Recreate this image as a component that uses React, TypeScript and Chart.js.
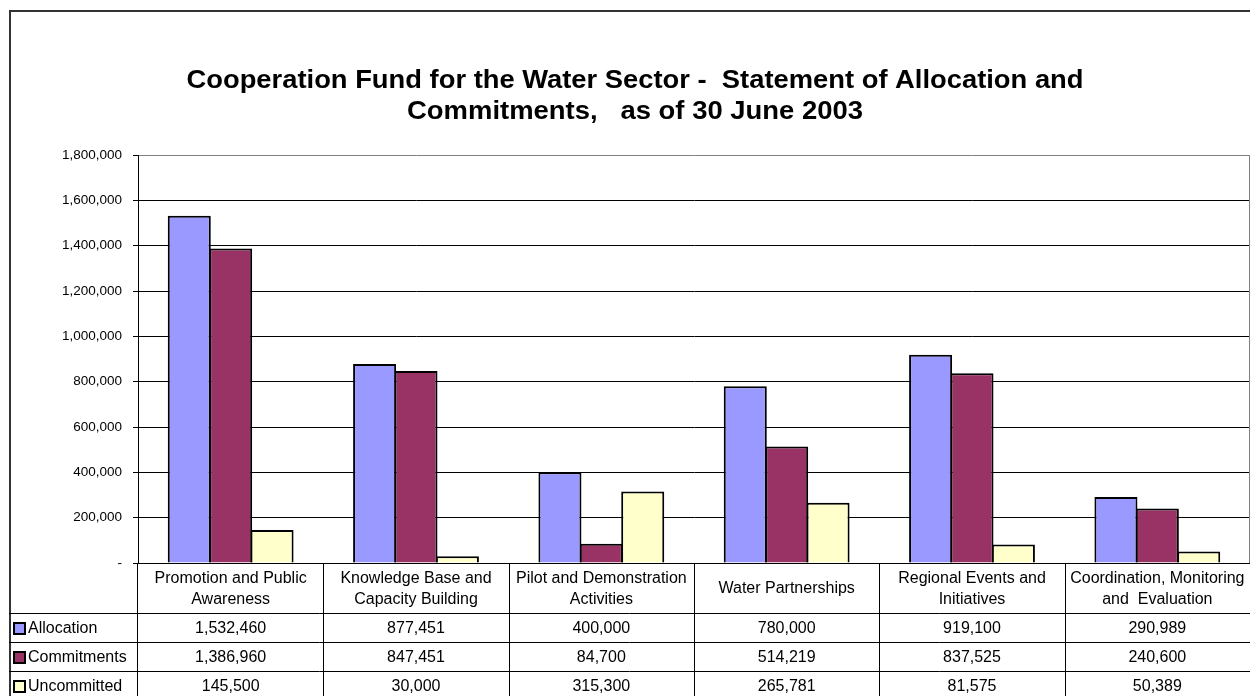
import React, { useEffect, useRef } from "react";
import { Chart, registerables } from "chart.js";

Chart.register(...registerables);

const categories: string[][] = [
  ["Promotion and Public", "Awareness"],
  ["Knowledge Base and", "Capacity Building"],
  ["Pilot and Demonstration", "Activities"],
  ["Water Partnerships"],
  ["Regional Events and", "Initiatives"],
  ["Coordination, Monitoring", "and  Evaluation"],
];
const seriesNames = ["Allocation", "Commitments", "Uncommitted"];
const allocation = [1532460, 877451, 400000, 780000, 919100, 290989];
const commitments = [1386960, 847451, 84700, 514219, 837525, 240600];
const uncommitted = [145500, 30000, 315300, 265781, 81575, 50389];
const seriesColors = ["#9999FF", "#993366", "#FFFFCC"];
const titleLines = [
  "Cooperation Fund for the Water Sector -  Statement of Allocation and",
  "Commitments,   as of 30 June 2003",
];
const yMax = 1800000;
const yStep = 200000;

const FONT = '"Liberation Sans", Arial, sans-serif';
const fmt = (v: number) => (v === 0 ? "-" : v.toLocaleString("en-US"));

const tablePlugin = {
  id: "tableAndFrame",
  afterDraw(chart: any) {
    const ctx: CanvasRenderingContext2D = chart.ctx;
    const area = chart.chartArea;
    const xs = chart.scales.x;
    const W = chart.width;
    const H = chart.height;
    const series = [allocation, commitments, uncommitted];
    ctx.save();

    // plot area right border (gray)
    ctx.strokeStyle = "#808080";
    ctx.lineWidth = 1;
    ctx.beginPath();
    ctx.moveTo(area.right - 0.5, area.top);
    ctx.lineTo(area.right - 0.5, area.bottom);
    ctx.stroke();

    // outer frame
    ctx.fillStyle = "#333333";
    ctx.fillRect(9, 10, W - 9, 2);
    ctx.fillRect(9, 10, 2, H - 10);

    // title
    ctx.fillStyle = "#000";
    ctx.font = `bold 26px ${FONT}`;
    ctx.textAlign = "center";
    ctx.textBaseline = "alphabetic";
    const titleCx = 635;
    const targetW = [897, 456];
    const titleY = [88, 119];
    titleLines.forEach((t, i) => {
      const w = ctx.measureText(t).width;
      const sx = targetW[i] / w;
      ctx.save();
      ctx.translate(titleCx, titleY[i]);
      ctx.scale(sx, 1);
      ctx.fillText(t, 0, 0);
      ctx.restore();
    });

    // table
    const n = categories.length;
    const catW = (xs.right - xs.left) / n;
    const top = area.bottom;
    const headerBottom = top + 50;
    const rowH = 29;
    ctx.strokeStyle = "#000";
    ctx.lineWidth = 1;
    ctx.beginPath();
    for (let i = 0; i < n; i++) {
      const bx = Math.round(xs.left + i * catW) + 0.5 - (i === 0 ? 1 : 0);
      ctx.moveTo(bx, top);
      ctx.lineTo(bx, H);
    }
    for (let r = 0; r < 3; r++) {
      const y = headerBottom + r * rowH + 0.5;
      ctx.moveTo(9, y);
      ctx.lineTo(W, y);
    }
    ctx.stroke();

    ctx.fillStyle = "#000";
    ctx.font = `16px ${FONT}`;
    ctx.textAlign = "center";
    ctx.textBaseline = "middle";
    const headerMid = (top + headerBottom) / 2;
    categories.forEach((lines, i) => {
      const cx = xs.getPixelForValue(i);
      const lh = 21;
      lines.forEach((ln, k) => {
        const y = headerMid + (k - (lines.length - 1) / 2) * lh + 1;
        ctx.fillText(ln, cx, y);
      });
      series.forEach((s, r) => {
        const y = headerBottom + r * rowH + rowH / 2 + 1;
        ctx.fillText(fmt(s[i]), cx, y);
      });
    });

    // legend keys and row labels
    ctx.textAlign = "left";
    seriesNames.forEach((name, r) => {
      const yMid = headerBottom + r * rowH + rowH / 2;
      ctx.fillStyle = "#000";
      ctx.fillRect(13, Math.round(yMid - 6), 13, 13);
      ctx.fillStyle = seriesColors[r];
      ctx.fillRect(15, Math.round(yMid - 4), 9, 9);
      ctx.fillStyle = "#000";
      ctx.fillText(name, 28, yMid + 1);
    });

    ctx.restore();
  },
};

export default function App() {
  const ref = useRef<HTMLCanvasElement | null>(null);
  useEffect(() => {
    if (!ref.current) return;
    const chart = new Chart(ref.current, {
      type: "bar",
      data: {
        labels: categories.map((c) => c.join(" ")),
        datasets: [allocation, commitments, uncommitted].map((d, i) => ({
          label: seriesNames[i],
          data: d,
          backgroundColor: seriesColors[i],
          borderColor: "#000",
          borderWidth: 2,
          borderSkipped: "bottom",
          categoryPercentage: 0.67,
          barPercentage: 1.04,
        })),
      },
      options: {
        responsive: false,
        animation: false,
        devicePixelRatio: 1,
        layout: { padding: { left: 0, top: 155, right: 0, bottom: 0 } },
        plugins: {
          legend: { display: false },
          title: { display: false },
          tooltip: { enabled: false },
        },
        scales: {
          x: {
            type: "category",
            grid: { display: false },
            ticks: { display: false },
            border: { display: true, color: "#000", width: 1 },
            afterFit: (s: any) => {
              s.height = 133;
            },
          },
          y: {
            min: 0,
            max: yMax,
            ticks: {
              stepSize: yStep,
              padding: 11,
              color: "#000",
              font: { family: FONT, size: 13.5 },
              callback: (v: any) => fmt(Number(v)),
            },
            grid: {
              color: (c: any) => (c.tick && c.tick.value === yMax ? "#808080" : "#000"),
              tickColor: "#000",
              tickLength: 5,
              lineWidth: 1,
            },
            border: { display: true, color: "#000", width: 1 },
            afterFit: (s: any) => {
              s.width = 138;
            },
          },
        },
      },
      plugins: [tablePlugin],
    });
    return () => chart.destroy();
  }, []);
  return (
    <div style={{ position: "absolute", left: 0, top: 0, width: 1250, height: 696, background: "#fff" }}>
      <canvas ref={ref} width={1250} height={696} style={{ display: "block" }} />
    </div>
  );
}
